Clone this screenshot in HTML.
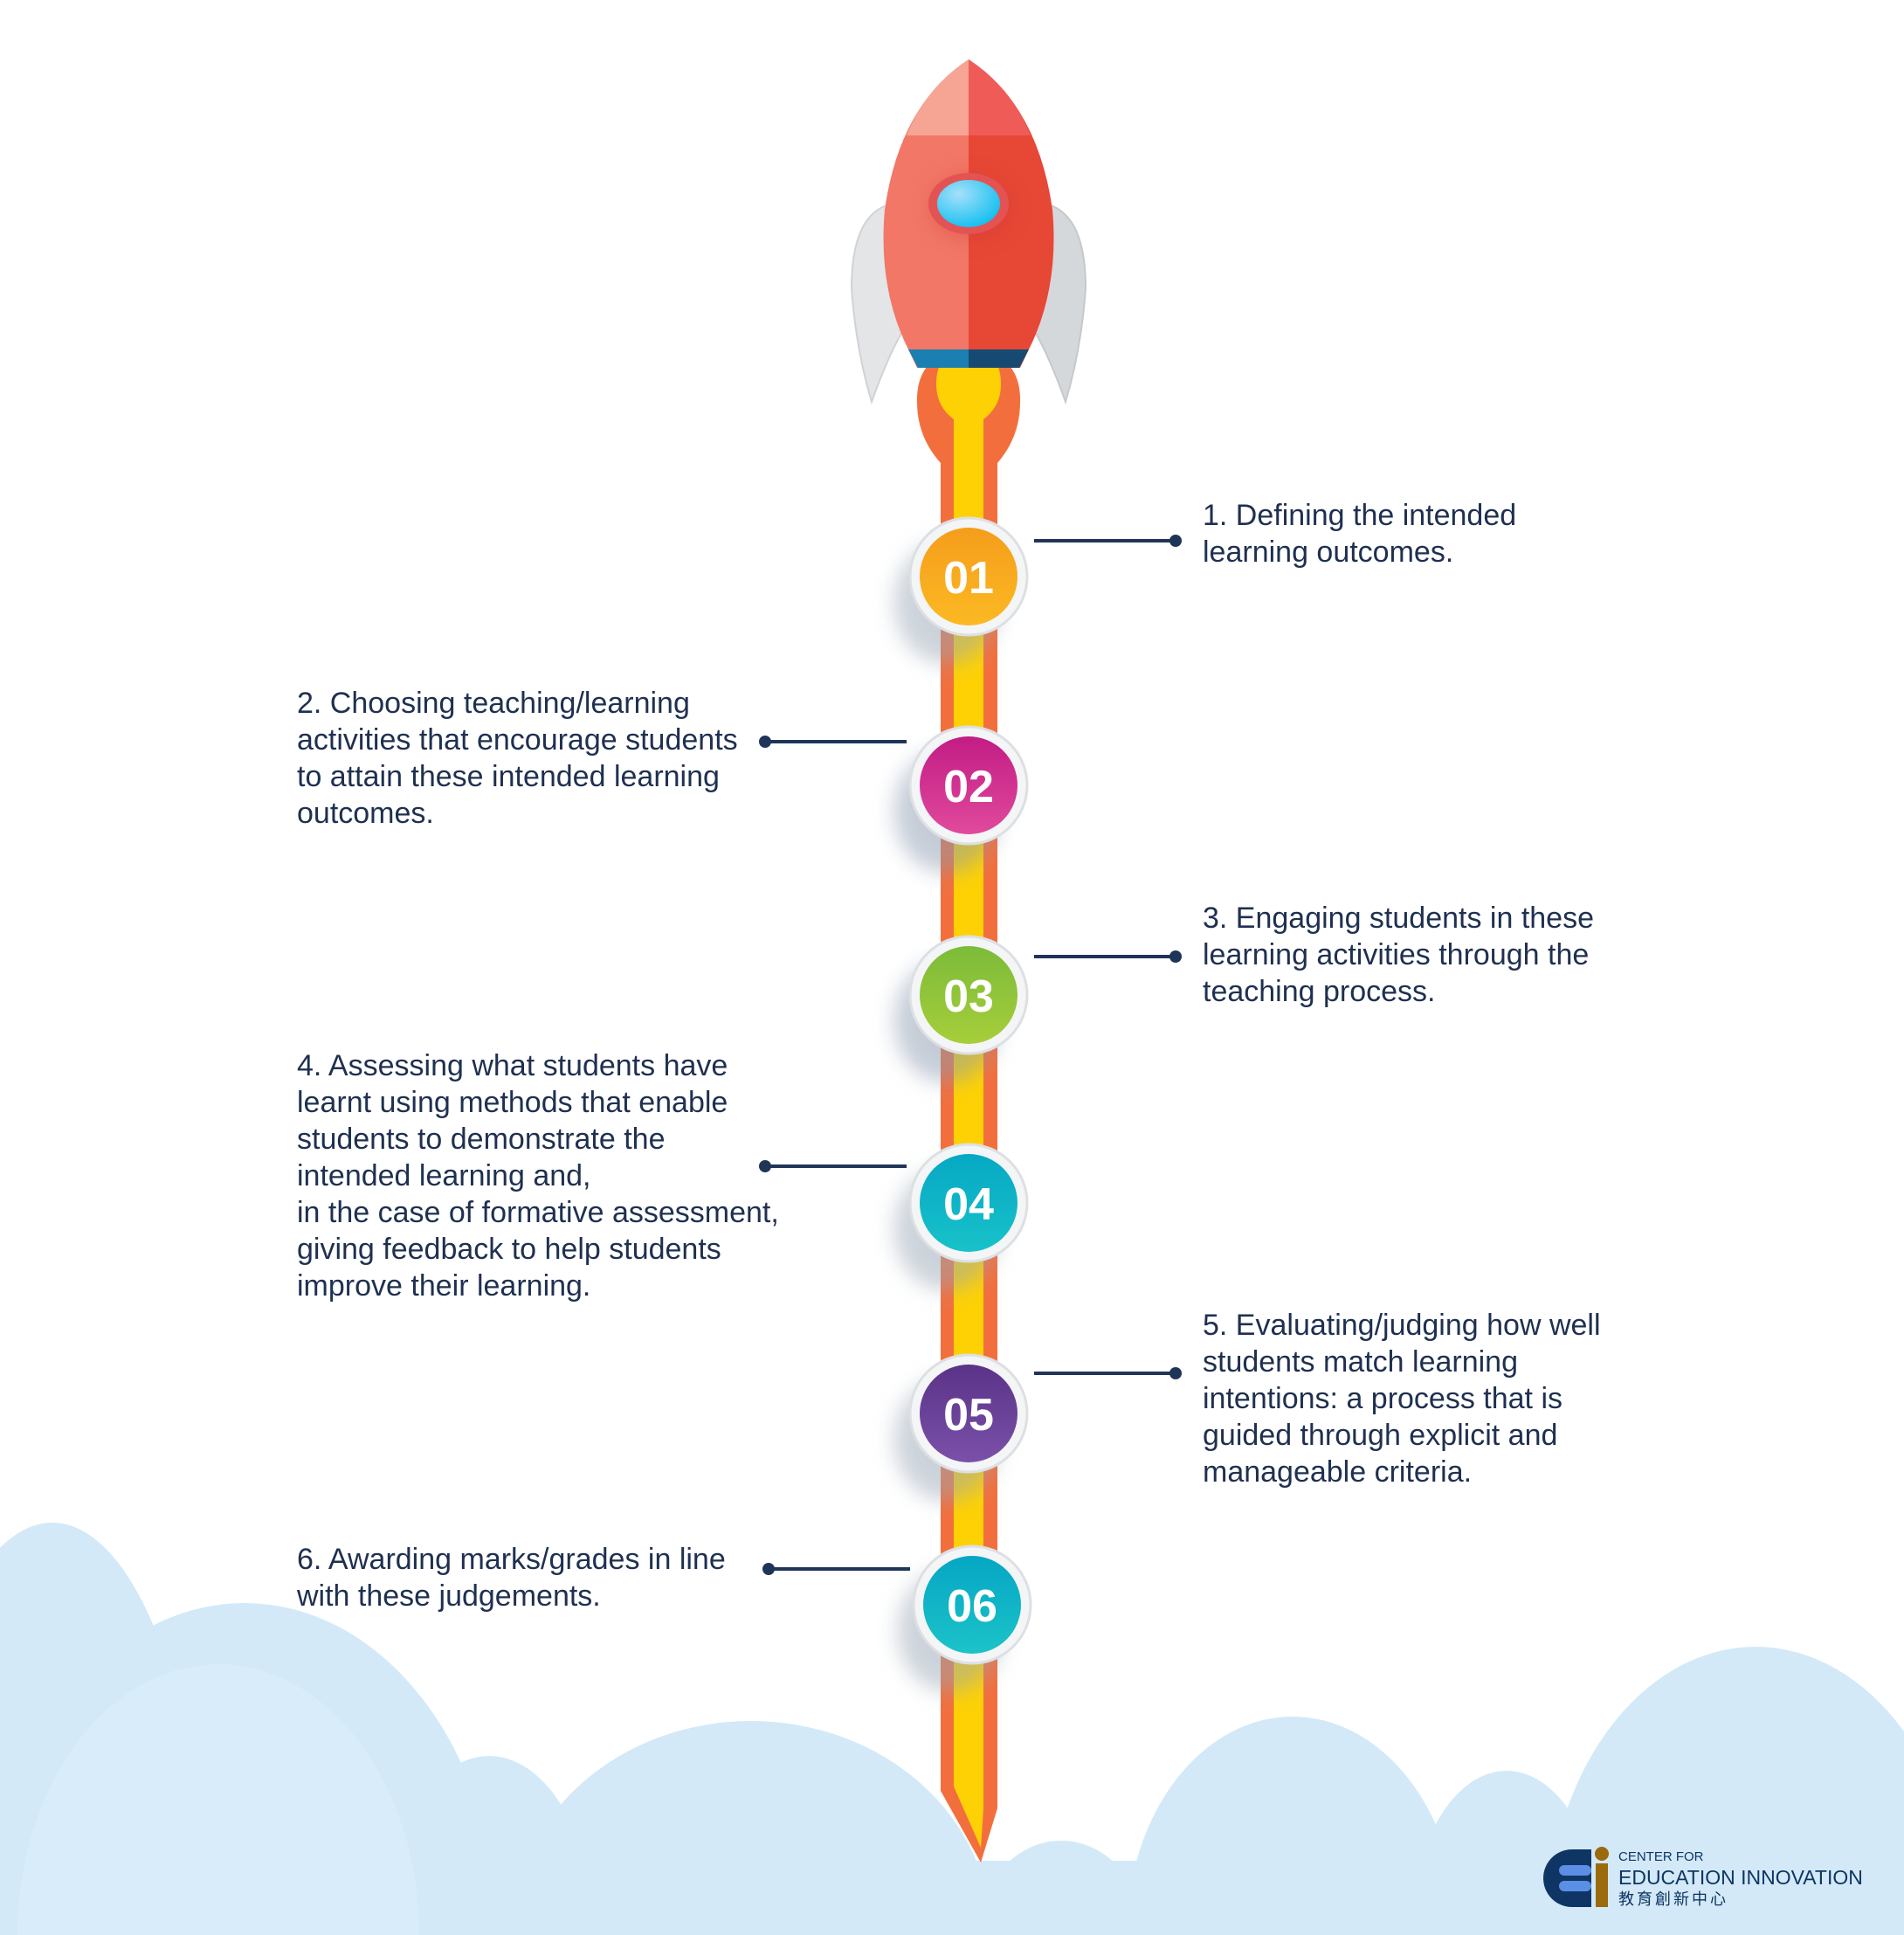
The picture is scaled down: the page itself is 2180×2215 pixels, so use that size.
<!DOCTYPE html>
<html><head><meta charset="utf-8"><style>
html,body{margin:0;padding:0;background:#fff;width:2180px;height:2215px;overflow:hidden}
svg{display:block}
.t{font-family:"Liberation Sans",sans-serif;font-size:34px;fill:#1f3050}
.n{font-family:"Liberation Sans",sans-serif;font-weight:bold;font-size:52px;fill:#fff;text-anchor:middle}
</style></head><body>
<svg width="2180" height="2215" viewBox="0 0 2180 2215" xmlns="http://www.w3.org/2000/svg">
<defs>
<filter id="sh" x="-50%" y="-50%" width="200%" height="200%"><feGaussianBlur stdDeviation="12"/></filter>
<radialGradient id="port" cx="0.35" cy="0.3" r="0.8"><stop offset="0" stop-color="#a6e0fa"/><stop offset="1" stop-color="#08bdf0"/></radialGradient>
<linearGradient id="c1" x1="0" y1="0" x2="0" y2="1"><stop offset="0" stop-color="#f59d1c"/><stop offset="1" stop-color="#fbb923"/></linearGradient>
<linearGradient id="c2" x1="0" y1="0" x2="0" y2="1"><stop offset="0" stop-color="#c21c84"/><stop offset="1" stop-color="#e04a9c"/></linearGradient>
<linearGradient id="c3" x1="0" y1="0" x2="0" y2="1"><stop offset="0" stop-color="#7cbb3a"/><stop offset="1" stop-color="#a6ce3a"/></linearGradient>
<linearGradient id="c4" x1="0" y1="0" x2="0" y2="1"><stop offset="0" stop-color="#06a8c4"/><stop offset="1" stop-color="#18c2c9"/></linearGradient>
<linearGradient id="c5" x1="0" y1="0" x2="0" y2="1"><stop offset="0" stop-color="#5a3388"/><stop offset="1" stop-color="#7a50a8"/></linearGradient>
<linearGradient id="c6" x1="0" y1="0" x2="0" y2="1"><stop offset="0" stop-color="#05a6c4"/><stop offset="1" stop-color="#1cc3c8"/></linearGradient>
</defs>

<!-- clouds -->
<g fill="#d3e9f8">
<ellipse cx="60" cy="2215" rx="175" ry="472"/>
<ellipse cx="280" cy="2215" rx="290" ry="380"/>
<ellipse cx="560" cy="2215" rx="120" ry="205"/>
<ellipse cx="860" cy="2215" rx="275" ry="245"/>
<ellipse cx="1215" cy="2215" rx="95" ry="108"/>
<ellipse cx="1480" cy="2215" rx="190" ry="250"/>
<ellipse cx="1725" cy="2215" rx="110" ry="188"/>
<ellipse cx="2010" cy="2215" rx="240" ry="330"/>
<rect x="0" y="2130" width="2180" height="85"/>
</g>
<ellipse cx="250" cy="2215" rx="230" ry="310" fill="#d9ecf9"/>

<!-- trail -->
<path d="M1077 520 L1142 520 L1142 2070 L1123 2132 L1077 2050 Z" fill="#f26f3d"/>
<path d="M1092 500 L1126 500 L1126 2070 L1123 2115 L1092 2045 Z" fill="#fed105"/>
<!-- flame -->
<path d="M1050 460 Q1049 420 1080 405 L1138 405 Q1169 420 1168 460 Q1168 500 1142 530 L1077 530 Q1050 500 1050 460Z" fill="#f26f3d"/>
<path d="M1072 440 Q1072 410 1092 405 L1126 405 Q1146 410 1146 440 Q1146 465 1126 480 L1126 530 L1092 530 L1092 480 Q1072 465 1072 440Z" fill="#fed105"/>

<!-- fins -->
<path d="M1015 235 Q975 250 975 330 Q980 400 998 460 Q1030 370 1060 345 Z" fill="#e3e5e7" stroke="#d0d3d6" stroke-width="2"/>
<path d="M1203 235 Q1243 250 1243 330 Q1238 400 1220 460 Q1188 370 1158 345 Z" fill="#d5d8db" stroke="#c6c9cc" stroke-width="2"/>
<!-- body -->
<path d="M1109 68 Q1030 120 1013 240 Q1005 330 1040 400 L1050 421 L1109 421 Z" fill="#f27767"/>
<path d="M1109 68 Q1188 120 1205 240 Q1213 330 1178 400 L1168 421 L1109 421 Z" fill="#e74735"/>
<path d="M1109 68 Q1060 100 1038 155 L1109 155 Z" fill="#f6a494"/>
<path d="M1109 68 Q1158 100 1180 155 L1109 155 Z" fill="#ef5c57"/>
<path d="M1040 400 L1109 400 L1109 421 L1051 421 Z" fill="#1b7fb1"/>
<path d="M1109 400 L1178 400 L1167 421 L1109 421 Z" fill="#174a72"/>
<ellipse cx="1112" cy="237" rx="46" ry="36" fill="#c93a33" opacity=".4" filter="url(#sh)"/>
<ellipse cx="1109" cy="233" rx="46" ry="35" fill="#e35353"/>
<ellipse cx="1109" cy="233" rx="36" ry="27" fill="url(#port)"/>

<!-- connectors -->
<g stroke="#1f3557" stroke-width="4" fill="#1f3557">
<line x1="1184" y1="619" x2="1346" y2="619"/><circle cx="1346" cy="619" r="7" stroke="none"/>
<line x1="1184" y1="1095" x2="1346" y2="1095"/><circle cx="1346" cy="1095" r="7" stroke="none"/>
<line x1="1184" y1="1572" x2="1346" y2="1572"/><circle cx="1346" cy="1572" r="7" stroke="none"/>
<line x1="876" y1="849" x2="1038" y2="849"/><circle cx="876" cy="849" r="7" stroke="none"/>
<line x1="876" y1="1335" x2="1038" y2="1335"/><circle cx="876" cy="1335" r="7" stroke="none"/>
<line x1="880" y1="1796" x2="1042" y2="1796"/><circle cx="880" cy="1796" r="7" stroke="none"/>
</g>

<!-- circles -->
<g>
<g transform="translate(1109,660)"><ellipse cx="-25" cy="30" rx="60" ry="70" fill="#9aa7b5" opacity=".5" filter="url(#sh)"/><circle r="67" fill="#f4f5f6" stroke="#dde0e3" stroke-width="3"/><circle r="56" fill="url(#c1)"/><text class="n" y="19">01</text></g>
<g transform="translate(1109,899)"><ellipse cx="-25" cy="30" rx="60" ry="70" fill="#8c9bb0" opacity=".5" filter="url(#sh)"/><circle r="67" fill="#f4f5f6" stroke="#dde0e3" stroke-width="3"/><circle r="56" fill="url(#c2)"/><text class="n" y="19">02</text></g>
<g transform="translate(1109,1139)"><ellipse cx="-25" cy="30" rx="60" ry="70" fill="#8c9bb0" opacity=".5" filter="url(#sh)"/><circle r="67" fill="#f4f5f6" stroke="#dde0e3" stroke-width="3"/><circle r="56" fill="url(#c3)"/><text class="n" y="19">03</text></g>
<g transform="translate(1109,1377)"><ellipse cx="-25" cy="30" rx="60" ry="70" fill="#9aa7b5" opacity=".5" filter="url(#sh)"/><circle r="67" fill="#f4f5f6" stroke="#dde0e3" stroke-width="3"/><circle r="56" fill="url(#c4)"/><text class="n" y="19">04</text></g>
<g transform="translate(1109,1618)"><ellipse cx="-25" cy="30" rx="60" ry="70" fill="#9aa7b5" opacity=".5" filter="url(#sh)"/><circle r="67" fill="#f4f5f6" stroke="#dde0e3" stroke-width="3"/><circle r="56" fill="url(#c5)"/><text class="n" y="19">05</text></g>
<g transform="translate(1113,1837)"><ellipse cx="-25" cy="30" rx="60" ry="70" fill="#9aa7b5" opacity=".5" filter="url(#sh)"/><circle r="67" fill="#f4f5f6" stroke="#dde0e3" stroke-width="3"/><circle r="56" fill="url(#c6)"/><text class="n" y="19">06</text></g>
</g>

<!-- texts -->
<text class="t" x="1377" y="601">1. Defining the intended</text>
<text class="t" x="1377" y="643">learning outcomes.</text>

<text class="t" x="340" y="816">2. Choosing teaching/learning</text>
<text class="t" x="340" y="858">activities that encourage students</text>
<text class="t" x="340" y="900">to attain these intended learning</text>
<text class="t" x="340" y="942">outcomes.</text>

<text class="t" x="1377" y="1062">3. Engaging students in these</text>
<text class="t" x="1377" y="1104">learning activities through the</text>
<text class="t" x="1377" y="1146">teaching process.</text>

<text class="t" x="340" y="1231">4. Assessing what students have</text>
<text class="t" x="340" y="1273">learnt using methods that enable</text>
<text class="t" x="340" y="1315">students to demonstrate the</text>
<text class="t" x="340" y="1357">intended learning and,</text>
<text class="t" x="340" y="1399">in the case of formative assessment,</text>
<text class="t" x="340" y="1441">giving feedback to help students</text>
<text class="t" x="340" y="1483">improve their learning.</text>

<text class="t" x="1377" y="1528">5. Evaluating/judging how well</text>
<text class="t" x="1377" y="1570">students match learning</text>
<text class="t" x="1377" y="1612">intentions: a process that is</text>
<text class="t" x="1377" y="1654">guided through explicit and</text>
<text class="t" x="1377" y="1696">manageable criteria.</text>

<text class="t" x="340" y="1796">6. Awarding marks/grades in line</text>
<text class="t" x="340" y="1838">with these judgements.</text>

<!-- logo -->
<g>
<path d="M1822 2117 L1800 2117 A33 33 0 0 0 1800 2183 L1822 2183 Z" fill="#0e3563"/>
<rect x="1785" y="2135" width="37" height="12" rx="6" fill="#5b8fe6"/>
<rect x="1785" y="2153" width="37" height="12" rx="6" fill="#5b8fe6"/>
<circle cx="1834" cy="2122" r="8" fill="#9a6a0c"/>
<rect x="1827" y="2133" width="14" height="50" fill="#9a6a0c"/>
<text x="1853" y="2130" font-family="Liberation Sans,sans-serif" font-size="15" fill="#0e3563">CENTER FOR</text>
<text x="1853" y="2157" font-family="Liberation Sans,sans-serif" font-size="23" fill="#0e3563">EDUCATION INNOVATION</text>
<text x="1853" y="2180" font-family="Liberation Sans,'Noto Sans CJK TC',sans-serif" font-size="18" fill="#0e3563" letter-spacing="3">教育創新中心</text>
</g>
</svg>
</body></html>
